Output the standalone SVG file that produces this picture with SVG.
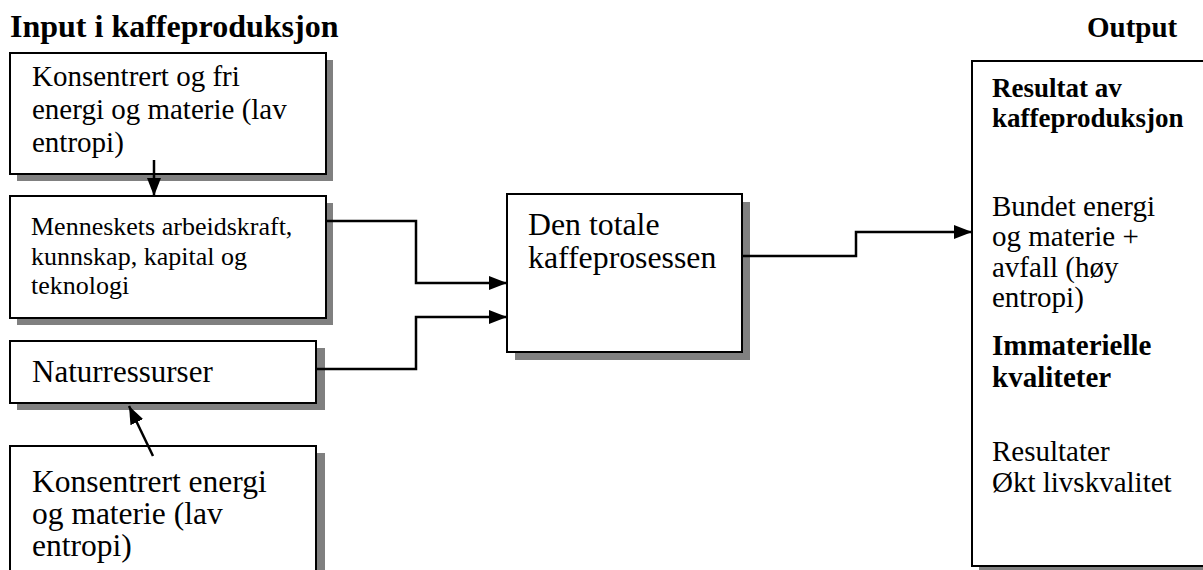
<svg xmlns="http://www.w3.org/2000/svg" width="1203" height="570" viewBox="0 0 1203 570">
<defs>
<style>
.t{font-family:"Liberation Serif","Times New Roman",serif;fill:#000}
.b{font-weight:bold}
.box{fill:#fff;stroke:#000;stroke-width:2}
.sh{fill:#808080}
.ln{fill:none;stroke:#000;stroke-width:2.5}
</style>
<marker id="ah2" markerWidth="18" markerHeight="14" refX="18" refY="7" orient="auto" markerUnits="userSpaceOnUse" viewBox="0 0 18 14">
<path d="M0,0 L18,7 L0,14 Z" fill="#000"/>
</marker>
</defs>
<rect width="1203" height="570" fill="#fff"/>
<text class="t b" x="10" y="37" font-size="32">Input i kaffeproduksjon</text>
<text class="t b" x="1087" y="37" font-size="29">Output</text>

<g id="node-konsentrert-fri">
<rect class="sh" x="17" y="60" width="316" height="121"/>
<rect class="box" x="10" y="53" width="316" height="121"/>
<text class="t" font-size="29"><tspan x="32" y="86">Konsentrert og fri</tspan><tspan x="32" y="119">energi og materie (lav</tspan><tspan x="32" y="152">entropi)</tspan></text>
</g>
<g id="node-menneskets">
<rect class="sh" x="17" y="203" width="316" height="122"/>
<rect class="box" x="10" y="196" width="316" height="122"/>
<text class="t" font-size="26"><tspan x="31" y="235">Menneskets arbeidskraft,</tspan><tspan x="31" y="265">kunnskap, kapital og</tspan><tspan x="31" y="294">teknologi</tspan></text>
</g>
<g id="node-naturressurser">
<rect class="sh" x="17" y="348" width="308" height="62"/>
<rect class="box" x="10" y="341" width="306" height="62"/>
<text class="t" font-size="31"><tspan x="32" y="382">Naturressurser</tspan></text>
</g>
<g id="node-konsentrert">
<rect class="sh" x="17" y="453" width="308" height="130"/>
<rect class="box" x="10" y="446" width="306" height="130"/>
<text class="t" font-size="31.5"><tspan x="32" y="492">Konsentrert energi</tspan><tspan x="32" y="524">og materie (lav</tspan><tspan x="32" y="556">entropi)</tspan></text>
</g>
<g id="node-prosess">
<rect class="sh" x="515" y="202" width="235" height="158"/>
<rect class="box" x="507" y="194" width="235" height="158"/>
<text class="t" font-size="31.8"><tspan x="528" y="235">Den totale</tspan><tspan x="528" y="268">kaffeprosessen</tspan></text>
</g>
<g id="node-output">
<rect class="sh" x="979" y="68" width="240" height="505"/>
<rect class="box" x="972" y="61" width="240" height="505"/>
<text class="t b" font-size="27"><tspan x="992" y="97">Resultat av</tspan><tspan x="992" y="127">kaffeproduksjon</tspan></text>
<text class="t" font-size="29"><tspan x="992" y="216">Bundet energi</tspan><tspan x="992" y="246">og materie +</tspan><tspan x="992" y="277">avfall (høy</tspan><tspan x="992" y="307">entropi)</tspan></text>
<text class="t b" font-size="29"><tspan x="992" y="355">Immaterielle</tspan><tspan x="992" y="387">kvaliteter</tspan></text>
<text class="t" font-size="29"><tspan x="992" y="461">Resultater</tspan><tspan x="992" y="492">Økt livskvalitet</tspan></text>
</g>

<g id="connectors">
<path class="ln" d="M154,160 L154,196" marker-end="url(#ah2)"/>
<path class="ln" d="M153,456 L129,406" marker-end="url(#ah2)"/>
<path class="ln" d="M326,221 L416,221 L416,283 L507,283" marker-end="url(#ah2)"/>
<path class="ln" d="M316,369 L416,369 L416,317 L507,317" marker-end="url(#ah2)"/>
<path class="ln" d="M742,256 L856,256 L856,232 L972,232" marker-end="url(#ah2)"/>
</g>
</svg>
